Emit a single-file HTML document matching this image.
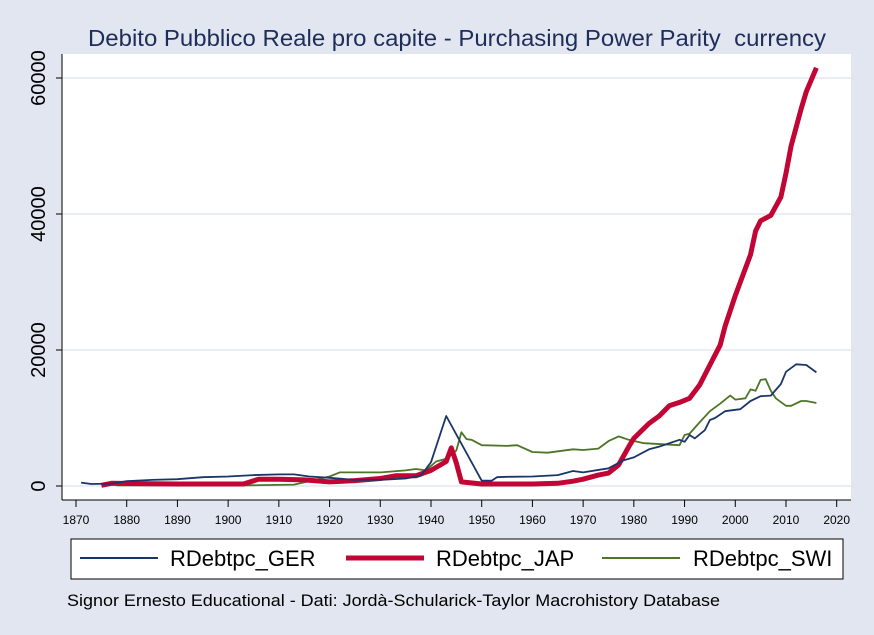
<!DOCTYPE html>
<html><head><meta charset="utf-8"><style>
html,body{margin:0;padding:0;background:#e1e6f0;}
svg{display:block;font-family:"Liberation Sans",Arial,sans-serif;}
</style></head><body>
<svg id="chart" width="874" height="635">
<rect x="0" y="0" width="874" height="635" fill="#e1e6f0"/>
<rect x="62" y="54" width="789" height="446" fill="#ffffff"/>
<text x="88" y="46" font-size="23" fill="#1e2d5a" textLength="738" lengthAdjust="spacingAndGlyphs" style="white-space:pre">Debito Pubblico Reale pro capite - Purchasing Power Parity  currency</text>
<g id="grid"></g>
<g id="series"></g>
<line x1="62" y1="54" x2="62" y2="500" stroke="#000" stroke-width="1"/>
<line x1="62" y1="500" x2="851" y2="500" stroke="#000" stroke-width="1"/>
<g id="axes"></g>
<rect x="71" y="539" width="772" height="40" fill="#fff" stroke="#000" stroke-width="1"/>
<g>
<line x1="80" y1="558" x2="158" y2="558" stroke="#1a3668" stroke-width="2"/>
<text x="170" y="566" font-size="22" fill="#000">RDebtpc_GER</text></g>
<g>
<line x1="346" y1="558" x2="424" y2="558" stroke="#c10534" stroke-width="5"/>
<text x="436" y="566" font-size="22" fill="#000">RDebtpc_JAP</text></g>
<g>
<line x1="602" y1="558" x2="680" y2="558" stroke="#4e7526" stroke-width="2"/>
<text x="693" y="566" font-size="22" fill="#000">RDebtpc_SWI</text></g>
<text x="67" y="606" font-size="16.5" fill="#000" textLength="653" lengthAdjust="spacingAndGlyphs">Signor Ernesto Educational - Dati: Jordà-Schularick-Taylor Macrohistory Database</text>
</svg>
<script>
const yTicks=[0,20000,40000,60000];
const xTicks=[1870,1880,1890,1900,1910,1920,1930,1940,1950,1960,1970,1980,1990,2000,2010,2020];
const gerYears=[1871,1873,1877,1880,1885,1890,1895,1900,1905,1910,1913,1916,1920,1925,1930,1935,1938,1940,1943,1950,1952,1953,1955,1960,1965,1968,1970,1975,1978,1980,1983,1985,1989,1990,1991,1992,1994,1995,1996,1998,2000,2001,2003,2005,2007,2009,2010,2012,2014,2016];
const gerValues=[500,300,350,700,900,1000,1300,1400,1600,1700,1700,1400,1200,900,900,1100,1500,3500,10300,780,800,1300,1350,1400,1600,2200,2000,2600,3800,4200,5400,5800,6800,6500,7500,7000,8200,9700,10000,11000,11200,11300,12500,13200,13300,15000,16800,17900,17800,16700];
const japYears=[1875,1877,1890,1903,1906,1910,1915,1920,1925,1930,1933,1937,1940,1943,1944,1945,1946,1950,1960,1965,1968,1970,1973,1975,1977,1979,1980,1983,1985,1987,1989,1991,1993,1995,1997,1998,2000,2002,2003,2004,2005,2007,2009,2010,2011,2013,2014,2016];
const japValues=[100,400,300,300,1000,1000,900,600,800,1100,1500,1500,2300,3600,5600,3400,600,300,300,400,700,1000,1600,1900,3100,5800,7000,9200,10300,11800,12300,12900,14900,17800,20700,23500,28000,32000,34000,37500,39000,39800,42500,46000,50000,55500,58000,61500];
const swiYears=[1878,1904,1913,1920,1922,1930,1935,1937,1939,1941,1943,1945,1946,1947,1948,1950,1955,1957,1960,1963,1968,1970,1973,1975,1977,1979,1982,1989,1990,1991,1993,1995,1997,1999,2000,2002,2003,2004,2005,2006,2007,2008,2010,2011,2013,2014,2016];
const swiValues=[100,100,200,1400,2000,2000,2300,2500,2300,3600,4000,5200,7900,6900,6800,6000,5900,6000,5000,4900,5400,5300,5500,6600,7300,6800,6300,6000,7500,7700,9400,11000,12100,13300,12700,12900,14200,14000,15600,15700,14000,12900,11800,11800,12500,12500,12200];
const NS='http://www.w3.org/2000/svg';
function xs(yr){return 76+(yr-1870)*5.0713;}
function ys(v){return 486-v*0.0068;}
const grid=document.getElementById('grid'),axes=document.getElementById('axes'),ser=document.getElementById('series');
yTicks.forEach(v=>{
 const g=document.createElementNS(NS,'line');
 g.setAttribute('x1',62);g.setAttribute('x2',851);g.setAttribute('y1',ys(v));g.setAttribute('y2',ys(v));
 g.setAttribute('stroke','#e3e7f1');g.setAttribute('stroke-width','1.5');
 
 
 grid.appendChild(g);
 const t=document.createElementNS(NS,'line');
 t.setAttribute('x1',56);t.setAttribute('x2',62);t.setAttribute('y1',ys(v));t.setAttribute('y2',ys(v));t.setAttribute('stroke','#000');
 
 
 axes.appendChild(t);
 const l=document.createElementNS(NS,'text');
 l.setAttribute('transform','translate(45,'+ys(v)+') rotate(-90)');
 l.setAttribute('text-anchor','middle');l.setAttribute('font-size','20');l.textContent=v;
 
 
 axes.appendChild(l);
});
xTicks.forEach(v=>{
 const t=document.createElementNS(NS,'line');
 t.setAttribute('x1',xs(v));t.setAttribute('x2',xs(v));t.setAttribute('y1',500);t.setAttribute('y2',507);t.setAttribute('stroke','#000');
 
 
 axes.appendChild(t);
 const l=document.createElementNS(NS,'text');
 l.setAttribute('x',xs(v));l.setAttribute('y',524);l.setAttribute('text-anchor','middle');l.setAttribute('font-size','12');l.textContent=v;
 
 
 axes.appendChild(l);
});
function draw(years,vals,color,w,name){
 const p=document.createElementNS(NS,'polyline');
 p.setAttribute('points',years.map((y,i)=>xs(y).toFixed(1)+','+ys(vals[i]).toFixed(1)).join(' '));
 p.setAttribute('fill','none');p.setAttribute('stroke',color);p.setAttribute('stroke-width',w);p.setAttribute('stroke-linejoin','round');
 
 
 ser.appendChild(p);
}
draw(swiYears,swiValues,'#4e7526',1.8,'series-swi');
draw(japYears,japValues,'#c10534',5,'series-jap');
draw(gerYears,gerValues,'#1a3668',1.8,'series-ger');
</script>
</body></html>
